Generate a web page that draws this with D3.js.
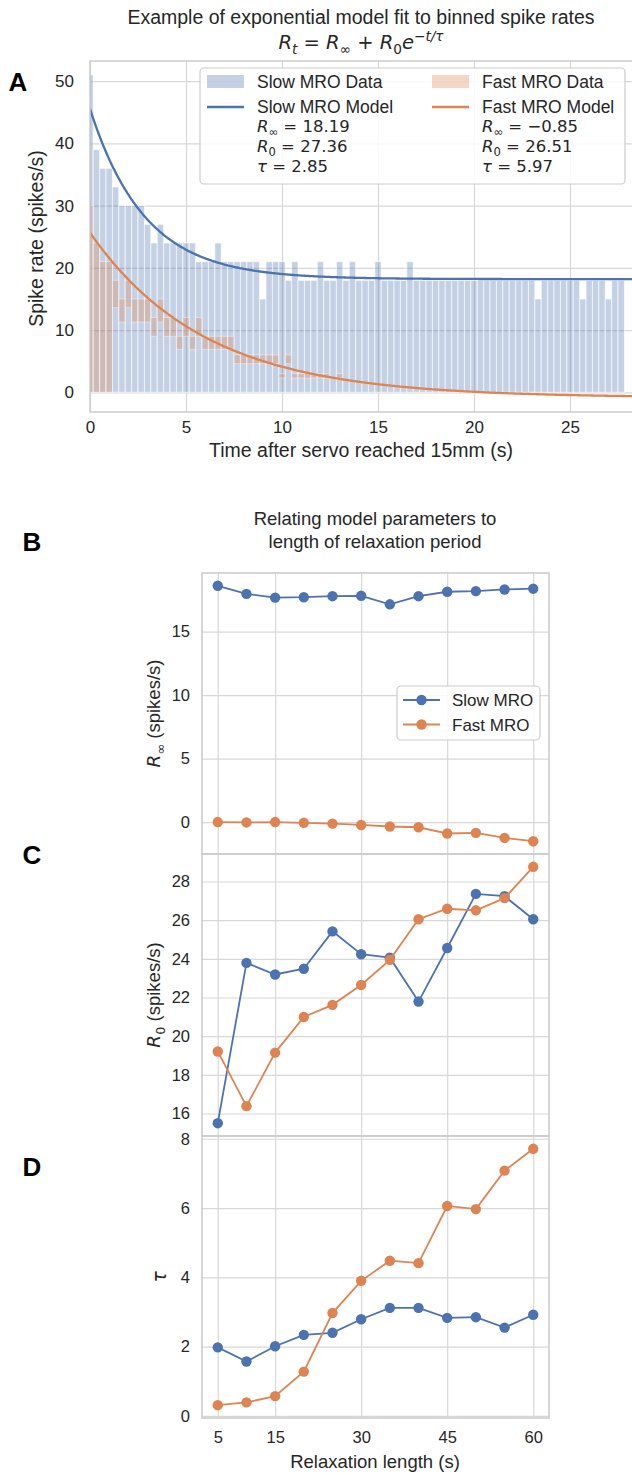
<!DOCTYPE html>
<html>
<head>
<meta charset="utf-8">
<script src="https://cdn.jsdelivr.net/npm/d3@7"></script>
<style>
  body { margin: 0; background: #fff; }
  svg { display: block; font-family: "Liberation Sans", Arial, sans-serif; }
</style>
</head>
<body>
<svg id="chart" width="632" height="1474"></svg>
<script>
// ---- panel A: binned spike rates (bins of 1/3 s, centred on multiples of 1/3 s)
var binWidth = 1 / 3;
var slowRates = [51, 39, 36, 36, 33, 30, 30, 30, 30, 27, 24, 27, 24, 24, 24, 24, 24, 21, 21, 21,
    24, 21, 21, 21, 21, 21, 21, 15, 21, 21, 21, 18, 21, 18, 18, 18, 21, 18, 18, 21,
    18, 21, 18, 18, 18, 21, 18, 18, 18, 18, 21, 18, 18, 18, 18, 18, 18, 18, 18, 18,
    18, 18, 18, 18, 18, 18, 18, 18, 18, 18, 15, 18, 18, 18, 18, 18, 18, 15, 18, 18,
    18, 15, 18, 18];
var fastTop = [30, 24, 21, 21, 18, 15, 18, 15, 15, 15, 12, 15, 12, 12, 9, 12, 9, 12, 9, 9,
    9, 9, 9, 6, 6, 6, 6, 6, 6, 6, 3, 6, 3, 3, 3, 3, 3, 3, 0, 3];
var fastBase = [0, 0, 0, 0, 13.6, 11.3, 13.6, 11.3, 11.3, 11.3, 9, 11.3, 9, 9, 6.9, 9, 6.9, 9, 6.9, 6.9,
    6.9, 6.9, 6.9, 4.6, 4.6, 4.6, 4.6, 4.6, 4.6, 4.6, 2.3, 4.6, 2.3, 2.3, 2.3, 2.3, 2.3, 2.3, 0, 2.3];

// fitted model R_t = R_inf + R_0 exp(-t/tau), [slow, fast]
var modelNames = ["Slow MRO", "Fast MRO"];
var fitRInf = [18.19, -0.85];
var fitR0 = [27.36, 26.51];
var fitTau = [2.85, 5.97];
var timeTicks = [0, 5, 10, 15, 20, 25];
var rateTicks = [0, 10, 20, 30, 40, 50];

// ---- panels B-D: fitted parameters vs relaxation length
var relaxLengths = [5, 10, 15, 20, 25, 30, 35, 40, 45, 50, 55, 60];
var slowRInf = [18.61, 17.97, 17.68, 17.71, 17.79, 17.82, 17.15, 17.79, 18.14, 18.19, 18.32, 18.38];
var fastRInf = [0.0, -0.03, 0.0, -0.06, -0.12, -0.23, -0.35, -0.41, -0.9, -0.85, -1.25, -1.51];
var slowR0 = [15.5, 23.79, 23.19, 23.49, 25.42, 24.24, 24.06, 21.79, 24.56, 27.36, 27.24, 26.05];
var fastR0 = [19.21, 16.38, 19.15, 20.99, 21.62, 22.65, 23.95, 26.05, 26.59, 26.51, 27.14, 28.76];
var slowTau = [1.98, 1.57, 2.01, 2.34, 2.4, 2.79, 3.12, 3.12, 2.83, 2.85, 2.55, 2.92];
var fastTau = [0.31, 0.39, 0.57, 1.28, 2.97, 3.9, 4.48, 4.41, 6.06, 5.97, 7.08, 7.71];
var relaxTicks = [5, 15, 30, 45, 60];

var C_SLOW = "#4c72b0", C_FAST = "#dd8452";
var GRID = "#d8d8d8", SPINE = "#cdcdcd", INK = "#262626";
var SANS = '"Liberation Sans", Arial, sans-serif';
var MATH = '"DejaVu Sans", sans-serif';

var svg = d3.select("#chart");

// small mathtext helper: parts are {t, it, sub, sup, sans}
function mathSpans(text, parts, size) {
    var shift = 0;
    parts.forEach(function(p) {
        var want = p.sub ? size * 0.25 : (p.sup ? -size * 0.42 : 0);
        var s = text.append("tspan").text(p.t).attr("dy", want - shift);
        shift = want;
        if (p.it) s.attr("font-style", "italic");
        if (p.sub || p.sup) s.attr("font-size", size * 0.7);
        if (p.sans) s.attr("font-family", SANS);
    });
    return text;
}

function fmtNum(v) {
    return (v < 0 ? "\u2212" : "") + Math.abs(v).toFixed(2);
}

function styleGrid(g) {
    g.select(".domain").remove();
    g.selectAll(".tick line").attr("stroke", GRID).attr("stroke-width", 1.2);
    g.selectAll(".tick text").attr("fill", INK).attr("font-family", SANS);
}

// ================= panel A =================
var A = { left: 90, right: 633, top: 61, bottom: 412 };
var xA = d3.scaleLinear().domain([0, 28.28]).range([A.left, A.right]);
var yA = d3.scaleLinear().domain([-3.17, 53.25]).range([A.bottom, A.top]);

svg.append("clipPath").attr("id", "clipA").append("rect")
    .attr("x", A.left).attr("y", A.top)
    .attr("width", A.right - A.left).attr("height", A.bottom - A.top);

svg.append("g")
    .attr("transform", "translate(0," + A.bottom + ")")
    .call(d3.axisBottom(xA).tickValues(timeTicks).tickSize(-(A.bottom - A.top)).tickPadding(9))
    .call(styleGrid)
    .selectAll(".tick text").attr("font-size", 17);

svg.append("g")
    .attr("transform", "translate(" + A.left + ",0)")
    .call(d3.axisLeft(yA).tickValues(rateTicks).tickSize(-(A.right - A.left)).tickPadding(16))
    .call(styleGrid)
    .selectAll(".tick text").attr("font-size", 17);

var barsA = svg.append("g").attr("clip-path", "url(#clipA)");

barsA.selectAll("rect.slow")
    .data(slowRates)
    .join("rect")
    .attr("class", "slow")
    .attr("x", function(d, i) { return xA((i - 0.5) * binWidth); })
    .attr("width", function(d, i) { return xA((i + 0.5) * binWidth) - xA((i - 0.5) * binWidth); })
    .attr("y", function(d) { return yA(d); })
    .attr("height", function(d) { return yA(0) - yA(d); })
    .attr("fill", C_SLOW).attr("fill-opacity", 0.33)
    .attr("stroke", "#fff").attr("stroke-opacity", 0.65).attr("stroke-width", 1);

barsA.selectAll("rect.fast")
    .data(fastTop)
    .join("rect")
    .attr("class", "fast")
    .attr("x", function(d, i) { return xA((i - 0.5) * binWidth); })
    .attr("width", function(d, i) { return xA((i + 0.5) * binWidth) - xA((i - 0.5) * binWidth); })
    .attr("y", function(d) { return yA(d); })
    .attr("height", function(d, i) { return yA(fastBase[i]) - yA(d); })
    .attr("fill", C_FAST).attr("fill-opacity", 0.3)
    .attr("stroke", "#fff").attr("stroke-opacity", 0.4).attr("stroke-width", 1);

// model curves, evaluated from the fitted parameters
var tSamples = d3.range(0, 28.3, 0.05);
var modelLine = d3.line().x(function(d) { return xA(d[0]); }).y(function(d) { return yA(d[1]); });
[C_SLOW, C_FAST].forEach(function(col, m) {
    var pts = tSamples.map(function(t) {
        return [t, fitRInf[m] + fitR0[m] * Math.exp(-t / fitTau[m])];
    });
    barsA.append("path")
        .attr("d", modelLine(pts))
        .attr("fill", "none")
        .attr("stroke", col)
        .attr("stroke-width", 2.3);
});

svg.append("rect")
    .attr("x", A.left).attr("y", A.top)
    .attr("width", A.right - A.left + 4).attr("height", A.bottom - A.top)
    .attr("fill", "none").attr("stroke", SPINE).attr("stroke-width", 1.5);

// legend A
var legA = svg.append("g");
legA.append("rect")
    .attr("x", 200).attr("y", 68).attr("width", 425).attr("height", 116).attr("rx", 4)
    .attr("fill", "#fff").attr("fill-opacity", 0.85)
    .attr("stroke", "#cccccc").attr("stroke-width", 1.2);

[0, 1].forEach(function(m) {
    var x0 = m === 0 ? 207 : 432;
    var col = m === 0 ? C_SLOW : C_FAST;
    legA.append("rect")
        .attr("x", x0).attr("y", 75).attr("width", 37).attr("height", 13)
        .attr("fill", col).attr("fill-opacity", 0.33);
    legA.append("text").attr("x", x0 + 50).attr("y", 88).attr("font-size", 17.5).attr("fill", INK)
        .text(modelNames[m] + " Data");
    legA.append("line")
        .attr("x1", x0).attr("x2", x0 + 37).attr("y1", 107).attr("y2", 107)
        .attr("stroke", col).attr("stroke-width", 2.3);
    legA.append("text").attr("x", x0 + 50).attr("y", 113).attr("font-size", 17.5).attr("fill", INK)
        .text(modelNames[m] + " Model");
    var lines = [
        [{ t: "R", it: true }, { t: "\u221e", sub: true }, { t: " = " + fmtNum(fitRInf[m]) }],
        [{ t: "R", it: true }, { t: "0", sub: true }, { t: " = " + fmtNum(fitR0[m]) }],
        [{ t: "\u03c4", it: true }, { t: " = " + fmtNum(fitTau[m]) }]
    ];
    lines.forEach(function(parts, j) {
        var t = legA.append("text").attr("x", x0 + 50).attr("y", 132 + j * 20)
            .attr("font-family", MATH).attr("font-size", 16.5).attr("fill", INK);
        mathSpans(t, parts, 16.5);
    });
});

// titles and labels A
svg.append("text").attr("x", 361).attr("y", 24).attr("text-anchor", "middle")
    .attr("font-size", 19.5).attr("fill", INK)
    .text("Example of exponential model fit to binned spike rates");
mathSpans(svg.append("text").attr("x", 361).attr("y", 49).attr("text-anchor", "middle")
    .attr("font-family", MATH).attr("font-size", 19.5).attr("fill", INK), [
    { t: "R", it: true }, { t: "t", it: true, sub: true }, { t: " = " },
    { t: "R", it: true }, { t: "\u221e", sub: true }, { t: " + " },
    { t: "R", it: true }, { t: "0", sub: true }, { t: "e", it: true },
    { t: "\u2212t/\u03c4", it: true, sup: true }
], 19.5);

svg.append("text").attr("x", 361).attr("y", 457).attr("text-anchor", "middle")
    .attr("font-size", 19.5).attr("fill", INK).text("Time after servo reached 15mm (s)");
svg.append("text").attr("transform", "translate(43," + ((A.top + A.bottom) / 2 + 2) + ") rotate(-90)")
    .attr("text-anchor", "middle").attr("font-size", 19.5).attr("fill", INK)
    .text("Spike rate (spikes/s)");

// ================= panels B-D =================
var P = { left: 202, right: 549 };
function padded(vals) {
    var e = d3.extent(vals), m = (e[1] - e[0]) * 0.05;
    return [e[0] - m, e[1] + m];
}
var xP = d3.scaleLinear().domain(padded(relaxLengths)).range([P.left, P.right]);

var panels = [
    { top: 573, bottom: 854, slow: slowRInf, fast: fastRInf, ticks: [0, 5, 10, 15],
      label: [{ t: "R", it: true }, { t: "\u221e", sub: true }, { t: " (spikes/s)", sans: true }] },
    { top: 854, bottom: 1136, slow: slowR0, fast: fastR0, ticks: [16, 18, 20, 22, 24, 26, 28],
      label: [{ t: "R", it: true }, { t: "0", sub: true }, { t: " (spikes/s)", sans: true }] },
    { top: 1136, bottom: 1418, slow: slowTau, fast: fastTau, ticks: [0, 2, 4, 6, 8],
      label: [{ t: "\u03c4", it: true }] }
];

panels.forEach(function(p, idx) {
    var y = d3.scaleLinear().domain(padded(p.slow.concat(p.fast))).range([p.bottom, p.top]);
    var g = svg.append("g");

    g.append("g")
        .attr("transform", "translate(0," + p.bottom + ")")
        .call(d3.axisBottom(xP).tickValues(relaxTicks).tickSize(-(p.bottom - p.top)).tickPadding(13))
        .call(styleGrid)
        .selectAll(".tick text")
        .attr("font-size", 16.5)
        .style("display", idx === 2 ? null : "none");

    g.append("g")
        .attr("transform", "translate(" + P.left + ",0)")
        .call(d3.axisLeft(y).tickValues(p.ticks).tickSize(-(P.right - P.left)).tickPadding(12))
        .call(styleGrid)
        .selectAll(".tick text").attr("font-size", 16.5);

    g.append("rect")
        .attr("x", P.left).attr("y", p.top)
        .attr("width", P.right - P.left).attr("height", p.bottom - p.top)
        .attr("fill", "none").attr("stroke", SPINE).attr("stroke-width", 1.6);

    [[p.slow, C_SLOW], [p.fast, C_FAST]].forEach(function(s) {
        g.append("path")
            .attr("d", d3.line().x(function(d, i) { return xP(relaxLengths[i]); })
                .y(function(d) { return y(d); })(s[0]))
            .attr("fill", "none").attr("stroke", s[1]).attr("stroke-width", 1.8);
        g.selectAll(null).data(s[0]).join("circle")
            .attr("cx", function(d, i) { return xP(relaxLengths[i]); })
            .attr("cy", function(d) { return y(d); })
            .attr("r", 5.2)
            .attr("fill", s[1]);
    });

    var lab = g.append("text")
        .attr("transform", "translate(" + (idx === 2 ? 166 : 160) + "," + ((p.top + p.bottom) / 2) + ") rotate(-90)")
        .attr("text-anchor", "middle").attr("font-family", MATH).attr("font-size", 18.5).attr("fill", INK);
    mathSpans(lab, p.label, 18.5);
});

// legend B
var legB = svg.append("g");
legB.append("rect")
    .attr("x", 397).attr("y", 686).attr("width", 143).attr("height", 54).attr("rx", 4)
    .attr("fill", "#fff").attr("fill-opacity", 0.85)
    .attr("stroke", "#cccccc").attr("stroke-width", 1.2);
[C_SLOW, C_FAST].forEach(function(col, m) {
    var yy = 700 + m * 24.5;
    legB.append("line").attr("x1", 403).attr("x2", 440).attr("y1", yy).attr("y2", yy)
        .attr("stroke", col).attr("stroke-width", 1.8);
    legB.append("circle").attr("cx", 421.5).attr("cy", yy).attr("r", 5.2).attr("fill", col);
    legB.append("text").attr("x", 452).attr("y", yy + 6).attr("font-size", 17).attr("fill", INK)
        .text(modelNames[m]);
});

svg.append("text").attr("x", 375).attr("y", 525).attr("text-anchor", "middle")
    .attr("font-size", 18.5).attr("fill", INK).text("Relating model parameters to");
svg.append("text").attr("x", 375).attr("y", 548).attr("text-anchor", "middle")
    .attr("font-size", 18.5).attr("fill", INK).text("length of relaxation period");
svg.append("text").attr("x", 375).attr("y", 1468).attr("text-anchor", "middle")
    .attr("font-size", 18.5).attr("fill", INK).text("Relaxation length (s)");

// panel letters
[["A", 18, 91], ["B", 32, 551], ["C", 32, 864], ["D", 32, 1176]].forEach(function(l) {
    svg.append("text").attr("x", l[1]).attr("y", l[2]).attr("text-anchor", "middle")
        .attr("font-size", 26).attr("font-weight", "bold").attr("fill", "#000").text(l[0]);
});
</script>
</body>
</html>
